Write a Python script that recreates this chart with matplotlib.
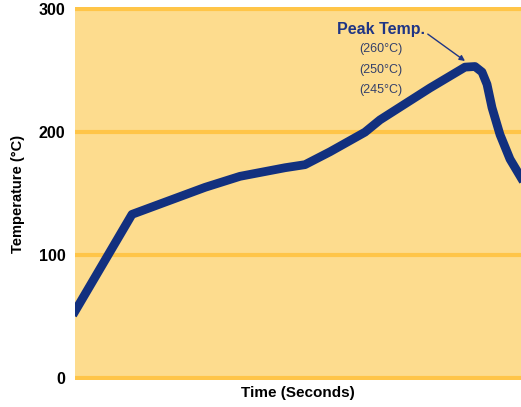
import matplotlib.pyplot as plt
from matplotlib import font_manager

# reflow profile (time in arbitrary units, temp in degC)
time = [0, 57, 130, 165, 210, 230, 255, 290, 305, 355, 390, 400, 407, 412, 417, 425, 435, 446]
temp = [54, 133, 155, 164, 171, 173.5, 184, 200, 210, 236, 253, 253.5, 249, 239, 220, 198, 178, 163]
yticks = [0, 100, 200, 300]
peak_labels = ['(260°C)', '(250°C)', '(245°C)']

names = {f.name for f in font_manager.fontManager.ttflist}
fam = 'Liberation Sans Narrow' if 'Liberation Sans Narrow' in names else 'Liberation Sans'
plt.rcParams['font.family'] = [fam, 'DejaVu Sans']

fig = plt.figure(figsize=(5.21, 4.07), dpi=100)
ax = fig.add_axes([75 / 521, 27 / 407, 446 / 521, 373 / 407])
ax.set_facecolor('#FDDC8E')
for y in yticks:
    ax.axhline(y, color='#FFC548', lw=3, zorder=1)

ax.plot(time, temp, color='#12307F', lw=6.3, solid_joinstyle='round', zorder=3)

ax.set_xlim(0, 446)
ax.set_ylim(-2, 302)
ax.set_xticks([])
ax.set_yticks(yticks)
ax.set_yticklabels([str(v) for v in yticks], fontsize=11.5, fontweight='bold')
ax.tick_params(axis='y', length=0, pad=7)
for s in ax.spines.values():
    s.set_visible(False)

ax.set_ylabel('Temperature (°C)', fontsize=10.5, fontweight='bold', labelpad=10)
ax.set_xlabel('Time (Seconds)', fontsize=11, fontweight='bold', labelpad=4)

ax.annotate('Peak Temp.', xy=(390, 258), xytext=(306, 284), textcoords='data',
            fontsize=11.5, fontweight='bold', color='#1F3585', ha='center', va='center',
            arrowprops=dict(arrowstyle='-|>', color='#1F3585', lw=1,
                            mutation_scale=8, shrinkA=38, shrinkB=0,
                            relpos=(1, 0.3)))
for i, lab in enumerate(peak_labels):
    ax.text(306, 268 - i * 17, lab, fontsize=9, color='#34406A', ha='center', va='center')

fig.savefig('out.png', dpi=100)
